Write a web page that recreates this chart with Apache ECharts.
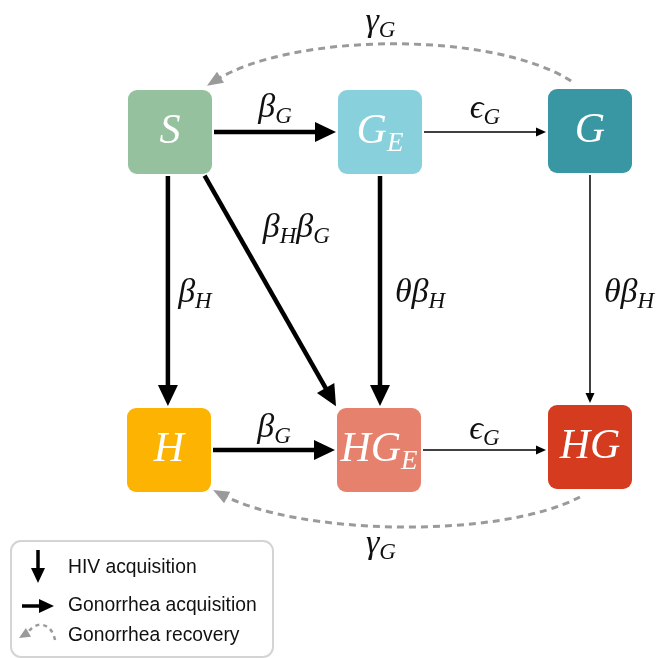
<!DOCTYPE html>
<html><head><meta charset="utf-8">
<script src="https://cdn.jsdelivr.net/npm/echarts@6/dist/echarts.min.js"></script>
<style>html,body{margin:0;padding:0;background:#fff}#c{width:666px;height:658px}</style>
</head><body><div id="c"></div>
<script>
// ---- data ----
const nodeNames = ['S', 'G_E', 'G', 'H', 'HG_E', 'HG'];
const nodeX = [170, 380, 590, 169, 379, 590];
const nodeY = [132, 132, 131, 450, 450, 447];
const nodeColors = ['#96C19F', '#88D0DC', '#3897A3', '#FDB301', '#E6816E', '#D53B1F'];

const edgeSource = [0, 1, 0, 0, 1, 2, 3, 4];
const edgeTarget = [1, 2, 3, 4, 4, 5, 4, 5];
const edgeKind = ['thick', 'thin', 'thick', 'thick', 'thick', 'thin', 'thick', 'thin'];
const edgeLabels = ['β_G', 'ϵ_G', 'β_H', 'β_Hβ_G', 'θβ_H', 'θβ_H', 'β_G', 'ϵ_G'];

const recoverySource = [2, 5];
const recoveryTarget = [0, 3];
const recoveryLabels = ['γ_G', 'γ_G'];

const legendLabels = ['HIV acquisition', 'Gonorrhea acquisition', 'Gonorrhea recovery'];

// ---- layout / style ----
const BOX = 84, RADIUS = 9;
const SERIF = '"Liberation Serif", "DejaVu Serif", serif';
const edgeAnchors = [
  [[1, 0], [-1, 0]], [[1, 0], [-1, 0]], [[-0.05, 1], [-0.05, -1]], [[0.8, 1], [-1, -1]],
  [[0, 1], [0, -1]], [[0, 1], [0, -1]], [[1, 0], [-1, 0]], [[1, 0], [-1, 0]]
];
const edgeLabelOffset = [[0, -24], [0, -23], [27, 2], [26, -63], [40, 2], [39, 4], [0, -22], [0, -20]];
const recAnchors = [[[-0.45, -1.19], [0.88, -1.1]], [[-0.24, 1.19], [1.05, 0.95]]];
const recBend = [-52, 44];
const recLabelOffset = [[-10, -22], [-17, 18]];
const kindStyle = {
  thick: { lw: 4.5, hl: 21, hw: 20 },
  thin: { lw: 1.5, hl: 10, hw: 9 }
};

function parseMath(str) {
  let out = '', main = '';
  for (let i = 0; i < str.length; i++) {
    const ch = str[i];
    if (ch === '_') {
      if (main) { out += '{m|' + main + '}'; main = ''; }
      out += '{s|' + str[i + 1] + '}'; i++;
    } else main += ch;
  }
  if (main) out += '{m|' + main + '}';
  return out;
}
function mathRich(size, sub, color, lh, slh) {
  return {
    m: { fontFamily: SERIF, fontStyle: 'italic', fontSize: size, lineHeight: lh, fill: color, verticalAlign: 'middle' },
    s: { fontFamily: SERIF, fontStyle: 'italic', fontSize: sub, lineHeight: slh, fill: color, verticalAlign: 'bottom' }
  };
}
const boxRich = mathRich(42, 27, '#ffffff', 50, 22);
const edgeRich = mathRich(34, 23, '#111111', 40, 15);

function norm(v) { const l = Math.hypot(v[0], v[1]); return [v[0] / l, v[1] / l]; }
function head(tip, dir, len, w) {
  const b = [tip[0] - dir[0] * len, tip[1] - dir[1] * len];
  const p = [-dir[1], dir[0]];
  return [tip, [b[0] + p[0] * w / 2, b[1] + p[1] * w / 2], [b[0] - p[0] * w / 2, b[1] - p[1] * w / 2]];
}

function renderNode(params, api) {
  const i = params.dataIndex;
  const c = api.coord([api.value(0), api.value(1)]);
  const sz = api.size([BOX, BOX]);
  const w = Math.abs(sz[0]), h = Math.abs(sz[1]);
  return { type: 'group', children: [
    { type: 'rect', shape: { x: c[0] - w / 2, y: c[1] - h / 2, width: w, height: h, r: RADIUS }, style: { fill: nodeColors[i] } },
    { type: 'text', x: c[0], y: c[1], style: { text: parseMath(nodeNames[i]), rich: boxRich, fill: '#fff', align: 'center', verticalAlign: 'middle' } }
  ] };
}

function renderEdge(params, api) {
  const i = params.dataIndex;
  const s = edgeSource[i], t = edgeTarget[i];
  const cs = api.coord([nodeX[s], nodeY[s]]), ct = api.coord([nodeX[t], nodeY[t]]);
  const sz = api.size([BOX, BOX]);
  const hw = Math.abs(sz[0]) / 2, hh = Math.abs(sz[1]) / 2;
  const a = edgeAnchors[i];
  const p0 = [cs[0] + a[0][0] * hw, cs[1] + a[0][1] * hh];
  const p1 = [ct[0] + a[1][0] * hw, ct[1] + a[1][1] * hh];
  if (a[0][1] === 0 && a[1][1] === 0) p1[1] = p0[1];
  if (a[0][0] === a[1][0] && a[0][1] !== 0) p1[0] = p0[0];
  const d = norm([p1[0] - p0[0], p1[1] - p0[1]]);
  const st = [p0[0] + d[0] * 2, p0[1] + d[1] * 2];
  const tip = [p1[0] - d[0] * 2, p1[1] - d[1] * 2];
  const k = kindStyle[edgeKind[i]];
  const lineEnd = [tip[0] - d[0] * k.hl * 0.8, tip[1] - d[1] * k.hl * 0.8];
  const mid = [(st[0] + tip[0]) / 2, (st[1] + tip[1]) / 2];
  const off = edgeLabelOffset[i];
  return { type: 'group', children: [
    { type: 'line', shape: { x1: st[0], y1: st[1], x2: lineEnd[0], y2: lineEnd[1] }, style: { stroke: '#000', lineWidth: k.lw } },
    { type: 'polygon', shape: { points: head(tip, d, k.hl, k.hw) }, style: { fill: '#000' } },
    { type: 'text', x: mid[0] + off[0], y: mid[1] + off[1], style: { text: parseMath(edgeLabels[i]), rich: edgeRich, fill: '#111', align: 'center', verticalAlign: 'middle' } }
  ] };
}

function renderRecovery(params, api) {
  const i = params.dataIndex;
  const s = recoverySource[i], t = recoveryTarget[i];
  const cs = api.coord([nodeX[s], nodeY[s]]), ct = api.coord([nodeX[t], nodeY[t]]);
  const sz = api.size([BOX, BOX]);
  const hw = Math.abs(sz[0]) / 2, hh = Math.abs(sz[1]) / 2;
  const a = recAnchors[i];
  const p0 = [cs[0] + a[0][0] * hw, cs[1] + a[0][1] * hh];
  const tip = [ct[0] + a[1][0] * hw, ct[1] + a[1][1] * hh];
  const b = recBend[i];
  const c1 = [p0[0] + (tip[0] - p0[0]) * 0.22, p0[1] + (tip[1] - p0[1]) * 0.22 + b];
  const c2 = [p0[0] + (tip[0] - p0[0]) * 0.77, p0[1] + (tip[1] - p0[1]) * 0.77 + b];
  const d = norm([tip[0] - c2[0], tip[1] - c2[1]]);
  const end = [tip[0] - d[0] * 9, tip[1] - d[1] * 9];
  const mx = (p0[0] + 3 * c1[0] + 3 * c2[0] + tip[0]) / 8;
  const my = (p0[1] + 3 * c1[1] + 3 * c2[1] + tip[1]) / 8;
  const off = recLabelOffset[i];
  return { type: 'group', children: [
    { type: 'bezierCurve', shape: { x1: p0[0], y1: p0[1], cpx1: c1[0], cpy1: c1[1], cpx2: c2[0], cpy2: c2[1], x2: end[0], y2: end[1] },
      style: { stroke: '#9a9a9a', lineWidth: 3, lineDash: [7, 5], fill: null } },
    { type: 'polygon', shape: { points: head(tip, d, 16, 13) }, style: { fill: '#9a9a9a' } },
    { type: 'text', x: mx + off[0], y: my + off[1], style: { text: parseMath(recoveryLabels[i]), rich: edgeRich, fill: '#111', align: 'center', verticalAlign: 'middle' } }
  ] };
}

// legend icons
const legIcon = [];
legIcon.push({ type: 'rect', shape: { x: 11, y: 541, width: 262, height: 116, r: 10 }, style: { fill: '#fff', stroke: '#d4d4d4', lineWidth: 2 } });
legIcon.push({ type: 'line', shape: { x1: 38, y1: 550, x2: 38, y2: 572 }, style: { stroke: '#000', lineWidth: 3.5 } });
legIcon.push({ type: 'polygon', shape: { points: head([38, 583], [0, 1], 15, 14) }, style: { fill: '#000' } });
legIcon.push({ type: 'line', shape: { x1: 22, y1: 606, x2: 42, y2: 606 }, style: { stroke: '#000', lineWidth: 3.5 } });
legIcon.push({ type: 'polygon', shape: { points: head([54, 606], [1, 0], 15, 14) }, style: { fill: '#000' } });
legIcon.push({ type: 'bezierCurve', shape: { x1: 55, y1: 640, cpx1: 52, cpy1: 624, cpx2: 38, cpy2: 620, x2: 29, y2: 631 },
  style: { stroke: '#9a9a9a', lineWidth: 2.5, lineDash: [4, 4], fill: null } });
legIcon.push({ type: 'polygon', shape: { points: head([19, 638], norm([-10, 6]), 11, 10) }, style: { fill: '#9a9a9a' } });
const legY = [568, 606, 636];
legendLabels.forEach((l, i) => legIcon.push({ type: 'text', x: 68, y: legY[i],
  style: { text: l, fontFamily: '"Liberation Sans", Arial, sans-serif', fontSize: 19.3, fill: '#111', verticalAlign: 'middle' } }));

const chart = echarts.init(document.getElementById('c'));
chart.setOption({
  animation: false,
  backgroundColor: '#fff',
  grid: { left: 0, right: 0, top: 0, bottom: 0 },
  xAxis: { type: 'value', min: 0, max: 666, show: false },
  yAxis: { type: 'value', min: 0, max: 658, inverse: true, show: false },
  graphic: legIcon,
  series: [
    { type: 'custom', silent: true, renderItem: renderRecovery, data: recoverySource.map((s) => [nodeX[s], nodeY[s]]), z: 1 },
    { type: 'custom', silent: true, renderItem: renderEdge, data: edgeSource.map((s) => [nodeX[s], nodeY[s]]), z: 2 },
    { type: 'custom', silent: true, renderItem: renderNode, data: nodeNames.map((n, i) => [nodeX[i], nodeY[i]]), z: 3 }
  ]
});
</script></body></html>
